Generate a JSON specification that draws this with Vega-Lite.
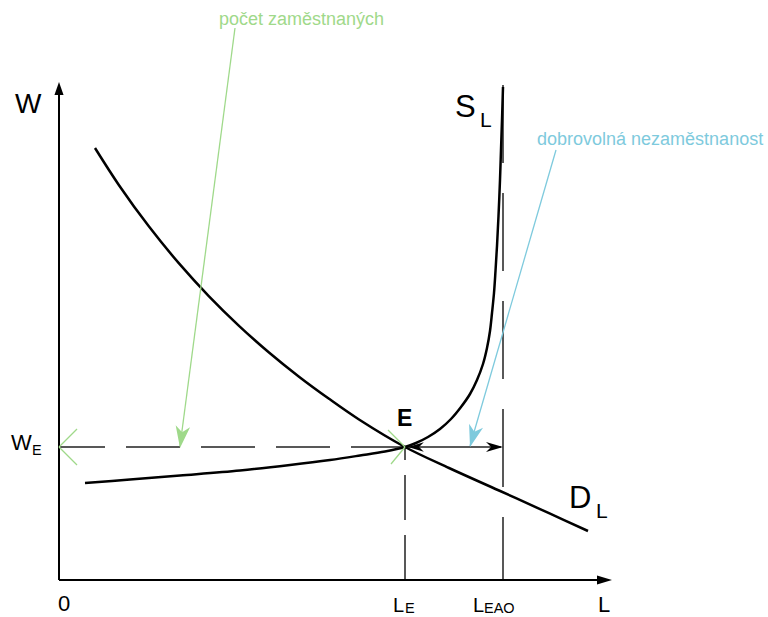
{
  "$schema": "https://vega.github.io/schema/vega-lite/v6.json",
  "width": 768,
  "height": 617,
  "autosize": {"type": "none"},
  "padding": 0,
  "background": "white",
  "config": {"view": {"stroke": null}, "font": "Liberation Sans"},
  "datasets": {
    "curves": [
      {"curve": "D", "i": 1, "L": 36, "W": 432},
      {"curve": "D", "i": 2, "L": 60, "W": 394.8},
      {"curve": "D", "i": 3, "L": 90, "W": 353.4},
      {"curve": "D", "i": 4, "L": 120, "W": 316.6},
      {"curve": "D", "i": 5, "L": 150, "W": 283.7},
      {"curve": "D", "i": 6, "L": 180, "W": 254.2},
      {"curve": "D", "i": 7, "L": 210, "W": 227.5},
      {"curve": "D", "i": 8, "L": 240, "W": 203.3},
      {"curve": "D", "i": 9, "L": 270, "W": 181.2},
      {"curve": "D", "i": 10, "L": 300, "W": 160.5},
      {"curve": "D", "i": 11, "L": 346, "W": 133},
      {"curve": "D", "i": 12, "L": 390, "W": 112},
      {"curve": "D", "i": 13, "L": 440, "W": 89.5},
      {"curve": "D", "i": 14, "L": 490, "W": 66.8},
      {"curve": "D", "i": 15, "L": 529, "W": 49},
      {"curve": "S", "i": 1, "L": 26, "W": 97},
      {"curve": "S", "i": 2, "L": 71, "W": 100.5},
      {"curve": "S", "i": 3, "L": 121, "W": 104.5},
      {"curve": "S", "i": 4, "L": 181, "W": 109.5},
      {"curve": "S", "i": 5, "L": 231, "W": 115},
      {"curve": "S", "i": 6, "L": 271, "W": 120},
      {"curve": "S", "i": 7, "L": 301, "W": 124.5},
      {"curve": "S", "i": 8, "L": 326, "W": 128.5},
      {"curve": "S", "i": 9, "L": 346, "W": 133},
      {"curve": "S", "i": 10, "L": 357, "W": 137},
      {"curve": "S", "i": 11, "L": 369, "W": 143},
      {"curve": "S", "i": 12, "L": 381, "W": 151},
      {"curve": "S", "i": 13, "L": 392, "W": 161},
      {"curve": "S", "i": 14, "L": 402, "W": 173},
      {"curve": "S", "i": 15, "L": 411, "W": 186},
      {"curve": "S", "i": 16, "L": 418, "W": 200},
      {"curve": "S", "i": 17, "L": 424, "W": 216},
      {"curve": "S", "i": 18, "L": 428, "W": 232},
      {"curve": "S", "i": 19, "L": 431, "W": 249},
      {"curve": "S", "i": 20, "L": 433, "W": 267},
      {"curve": "S", "i": 21, "L": 435, "W": 287},
      {"curve": "S", "i": 22, "L": 436.5, "W": 309},
      {"curve": "S", "i": 23, "L": 438, "W": 334},
      {"curve": "S", "i": 24, "L": 439.5, "W": 364},
      {"curve": "S", "i": 25, "L": 441, "W": 400},
      {"curve": "S", "i": 26, "L": 442, "W": 430},
      {"curve": "S", "i": 27, "L": 443, "W": 460},
      {"curve": "S", "i": 28, "L": 444, "W": 493}
    ],
    "segments": [
      {"name": "yaxis", "L": 0, "W": 0, "L2": 0, "W2": 490},
      {"name": "xaxis", "L": 0, "W": 0, "L2": 545, "W2": 0},
      {"name": "dashWE", "L": 346, "W": 133, "L2": 0, "W2": 133},
      {"name": "dashLE", "L": 346, "W": 0, "L2": 346, "W2": 133},
      {"name": "dashLEAO", "L": 444, "W": 495, "L2": 444, "W2": 0},
      {"name": "gap", "L": 346, "W": 133, "L2": 442, "W2": 133},
      {"name": "green", "L": 176, "W": 552, "L2": 121, "W2": 134},
      {"name": "chev", "L": 0, "W": 133, "L2": 18, "W2": 151},
      {"name": "chev", "L": 0, "W": 133, "L2": 18, "W2": 115},
      {"name": "chev", "L": 346, "W": 133, "L2": 329, "W2": 150},
      {"name": "chev", "L": 346, "W": 133, "L2": 332, "W2": 116},
      {"name": "blue", "L": 497, "W": 430, "L2": 411, "W2": 134}
    ],
    "heads": [
      {"name": "up", "L": 0, "W": 498},
      {"name": "right", "L": 553, "W": 0},
      {"name": "gapR", "L": 444, "W": 133},
      {"name": "gapL", "L": 349, "W": 133},
      {"name": "green", "L": 121, "W": 132},
      {"name": "blue", "L": 411, "W": 133}
    ],
    "labels": [
      {"name": "Wbig", "L": -44, "W": 467, "txt": "W"},
      {"name": "WE", "L": -48, "W": 130, "txt": "W"},
      {"name": "WEsub", "L": -27, "W": 125, "txt": "E"},
      {"name": "zero", "L": -1, "W": -31, "txt": "0"},
      {"name": "LE", "L": 334, "W": -32, "txt": "L"},
      {"name": "LEsub", "L": 346, "W": -33, "txt": "E"},
      {"name": "LEAO", "L": 414, "W": -32, "txt": "L"},
      {"name": "LEAOsub", "L": 425, "W": -33, "txt": "EAO"},
      {"name": "Laxis", "L": 539, "W": -32, "txt": "L"},
      {"name": "S", "L": 396, "W": 463, "txt": "S"},
      {"name": "Ssub", "L": 421, "W": 453, "txt": "L"},
      {"name": "D", "L": 510, "W": 72, "txt": "D"},
      {"name": "Dsub", "L": 537, "W": 62, "txt": "L"},
      {"name": "E", "L": 338, "W": 154, "txt": "E"},
      {"name": "green", "L": 160, "W": 555, "txt": "počet zaměstnaných"},
      {"name": "blue", "L": 478, "W": 435, "txt": "dobrovolná nezaměstnanost"}
    ]
  },
  "encoding": {
    "x": {"field": "L", "type": "quantitative", "scale": {"domain": [-59, 709], "nice": false, "zero": false}, "axis": null},
    "y": {"field": "W", "type": "quantitative", "scale": {"domain": [-37, 580], "nice": false, "zero": false}, "axis": null}
  },
  "layer": [
    {
      "data": {"name": "segments"},
      "transform": [{"filter": {"field": "name", "oneOf": ["dashWE"]}}],
      "mark": {"type": "rule", "stroke": "#222222", "strokeWidth": 1.5, "strokeDash": [54, 21]},
      "encoding": {"x2": {"field": "L2"}, "y2": {"field": "W2"}}
    },
    {
      "data": {"name": "segments"},
      "transform": [{"filter": {"field": "name", "oneOf": ["dashLE"]}}],
      "mark": {"type": "rule", "stroke": "#222222", "strokeWidth": 1.5, "strokeDash": [45, 15]},
      "encoding": {"x2": {"field": "L2"}, "y2": {"field": "W2"}}
    },
    {
      "data": {"name": "segments"},
      "transform": [{"filter": {"field": "name", "oneOf": ["dashLEAO"]}}],
      "mark": {"type": "rule", "stroke": "#222222", "strokeWidth": 1.5, "strokeDash": [78, 30]},
      "encoding": {"x2": {"field": "L2"}, "y2": {"field": "W2"}}
    },
    {
      "data": {"name": "segments"},
      "transform": [{"filter": {"field": "name", "oneOf": ["gap"]}}],
      "mark": {"type": "rule", "stroke": "#222222", "strokeWidth": 1.5},
      "encoding": {"x2": {"field": "L2"}, "y2": {"field": "W2"}}
    },
    {
      "data": {"name": "curves"},
      "mark": {"type": "line", "stroke": "black", "strokeWidth": 2.5, "interpolate": "catmull-rom"},
      "encoding": {"detail": {"field": "curve"}, "order": {"field": "i"}}
    },
    {
      "data": {"name": "segments"},
      "transform": [{"filter": {"field": "name", "oneOf": ["xaxis", "yaxis"]}}],
      "mark": {"type": "rule", "stroke": "black", "strokeWidth": 2},
      "encoding": {"x2": {"field": "L2"}, "y2": {"field": "W2"}}
    },
    {
      "data": {"name": "segments"},
      "transform": [{"filter": {"field": "name", "oneOf": ["green", "chev"]}}],
      "mark": {"type": "rule", "stroke": "#9fd98a", "strokeWidth": 1.3},
      "encoding": {"x2": {"field": "L2"}, "y2": {"field": "W2"}}
    },
    {
      "data": {"name": "segments"},
      "transform": [{"filter": {"field": "name", "oneOf": ["blue"]}}],
      "mark": {"type": "rule", "stroke": "#7ecadd", "strokeWidth": 1.3},
      "encoding": {"x2": {"field": "L2"}, "y2": {"field": "W2"}}
    },
    {
      "data": {"name": "heads"},
      "transform": [{"filter": "datum.name === 'up'"}],
      "mark": {"type": "point", "shape": "M0,0L0.35,1L-0.35,1Z", "size": 676, "filled": true, "color": "black", "opacity": 1, "strokeWidth": 0}
    },
    {
      "data": {"name": "heads"},
      "transform": [{"filter": "datum.name === 'right'"}],
      "mark": {"type": "point", "shape": "M0,0L-1,-0.3L-1,0.3Z", "size": 900, "filled": true, "color": "black", "opacity": 1, "strokeWidth": 0}
    },
    {
      "data": {"name": "heads"},
      "transform": [{"filter": "datum.name === 'gapR'"}],
      "mark": {"type": "point", "shape": "M0,0L-1,-0.3L-0.7,0L-1,0.3Z", "size": 1156, "filled": true, "color": "black", "opacity": 1, "strokeWidth": 0}
    },
    {
      "data": {"name": "heads"},
      "transform": [{"filter": "datum.name === 'gapL'"}],
      "mark": {"type": "point", "shape": "M0,0L1,-0.3L0.7,0L1,0.3Z", "size": 1000, "filled": true, "color": "black", "opacity": 1, "strokeWidth": 0}
    },
    {
      "data": {"name": "heads"},
      "transform": [{"filter": "datum.name === 'green'"}],
      "mark": {"type": "point", "shape": "M0,0L-0.33,-1L0,-0.72L0.33,-1Z", "size": 1936, "angle": 7.5, "filled": true, "color": "#9fd98a", "opacity": 1, "strokeWidth": 0}
    },
    {
      "data": {"name": "heads"},
      "transform": [{"filter": "datum.name === 'blue'"}],
      "mark": {"type": "point", "shape": "M0,0L-0.33,-1L0,-0.72L0.33,-1Z", "size": 1936, "angle": 16, "filled": true, "color": "#7ecadd", "opacity": 1, "strokeWidth": 0}
    },
    {
      "data": {"name": "labels"},
      "transform": [{"filter": "datum.name === 'Wbig'"}],
      "mark": {"type": "text", "align": "left", "baseline": "alphabetic", "fontSize": 28, "color": "black"},
      "encoding": {"text": {"field": "txt"}}
    },
    {
      "data": {"name": "labels"},
      "transform": [{"filter": {"field": "name", "oneOf": ["WE", "Laxis", "zero"]}}],
      "mark": {"type": "text", "align": "left", "baseline": "alphabetic", "fontSize": 22, "color": "black"},
      "encoding": {"text": {"field": "txt"}}
    },
    {
      "data": {"name": "labels"},
      "transform": [{"filter": {"field": "name", "oneOf": ["LE", "LEAO"]}}],
      "mark": {"type": "text", "align": "left", "baseline": "alphabetic", "fontSize": 20, "color": "black"},
      "encoding": {"text": {"field": "txt"}}
    },
    {
      "data": {"name": "labels"},
      "transform": [{"filter": {"field": "name", "oneOf": ["WEsub", "LEsub", "LEAOsub"]}}],
      "mark": {"type": "text", "align": "left", "baseline": "alphabetic", "fontSize": 14.5, "color": "black"},
      "encoding": {"text": {"field": "txt"}}
    },
    {
      "data": {"name": "labels"},
      "transform": [{"filter": {"field": "name", "oneOf": ["S", "D"]}}],
      "mark": {"type": "text", "align": "left", "baseline": "alphabetic", "fontSize": 31, "color": "black"},
      "encoding": {"text": {"field": "txt"}}
    },
    {
      "data": {"name": "labels"},
      "transform": [{"filter": {"field": "name", "oneOf": ["Ssub", "Dsub"]}}],
      "mark": {"type": "text", "align": "left", "baseline": "alphabetic", "fontSize": 21, "color": "black"},
      "encoding": {"text": {"field": "txt"}}
    },
    {
      "data": {"name": "labels"},
      "transform": [{"filter": "datum.name === 'E'"}],
      "mark": {"type": "text", "align": "left", "baseline": "alphabetic", "fontSize": 23, "fontWeight": "bold", "color": "black"},
      "encoding": {"text": {"field": "txt"}}
    },
    {
      "data": {"name": "labels"},
      "transform": [{"filter": "datum.name === 'green'"}],
      "mark": {"type": "text", "align": "left", "baseline": "alphabetic", "fontSize": 18, "color": "#9fd98a"},
      "encoding": {"text": {"field": "txt"}}
    },
    {
      "data": {"name": "labels"},
      "transform": [{"filter": "datum.name === 'blue'"}],
      "mark": {"type": "text", "align": "left", "baseline": "alphabetic", "fontSize": 18, "color": "#7ecadd"},
      "encoding": {"text": {"field": "txt"}}
    }
  ]
}
